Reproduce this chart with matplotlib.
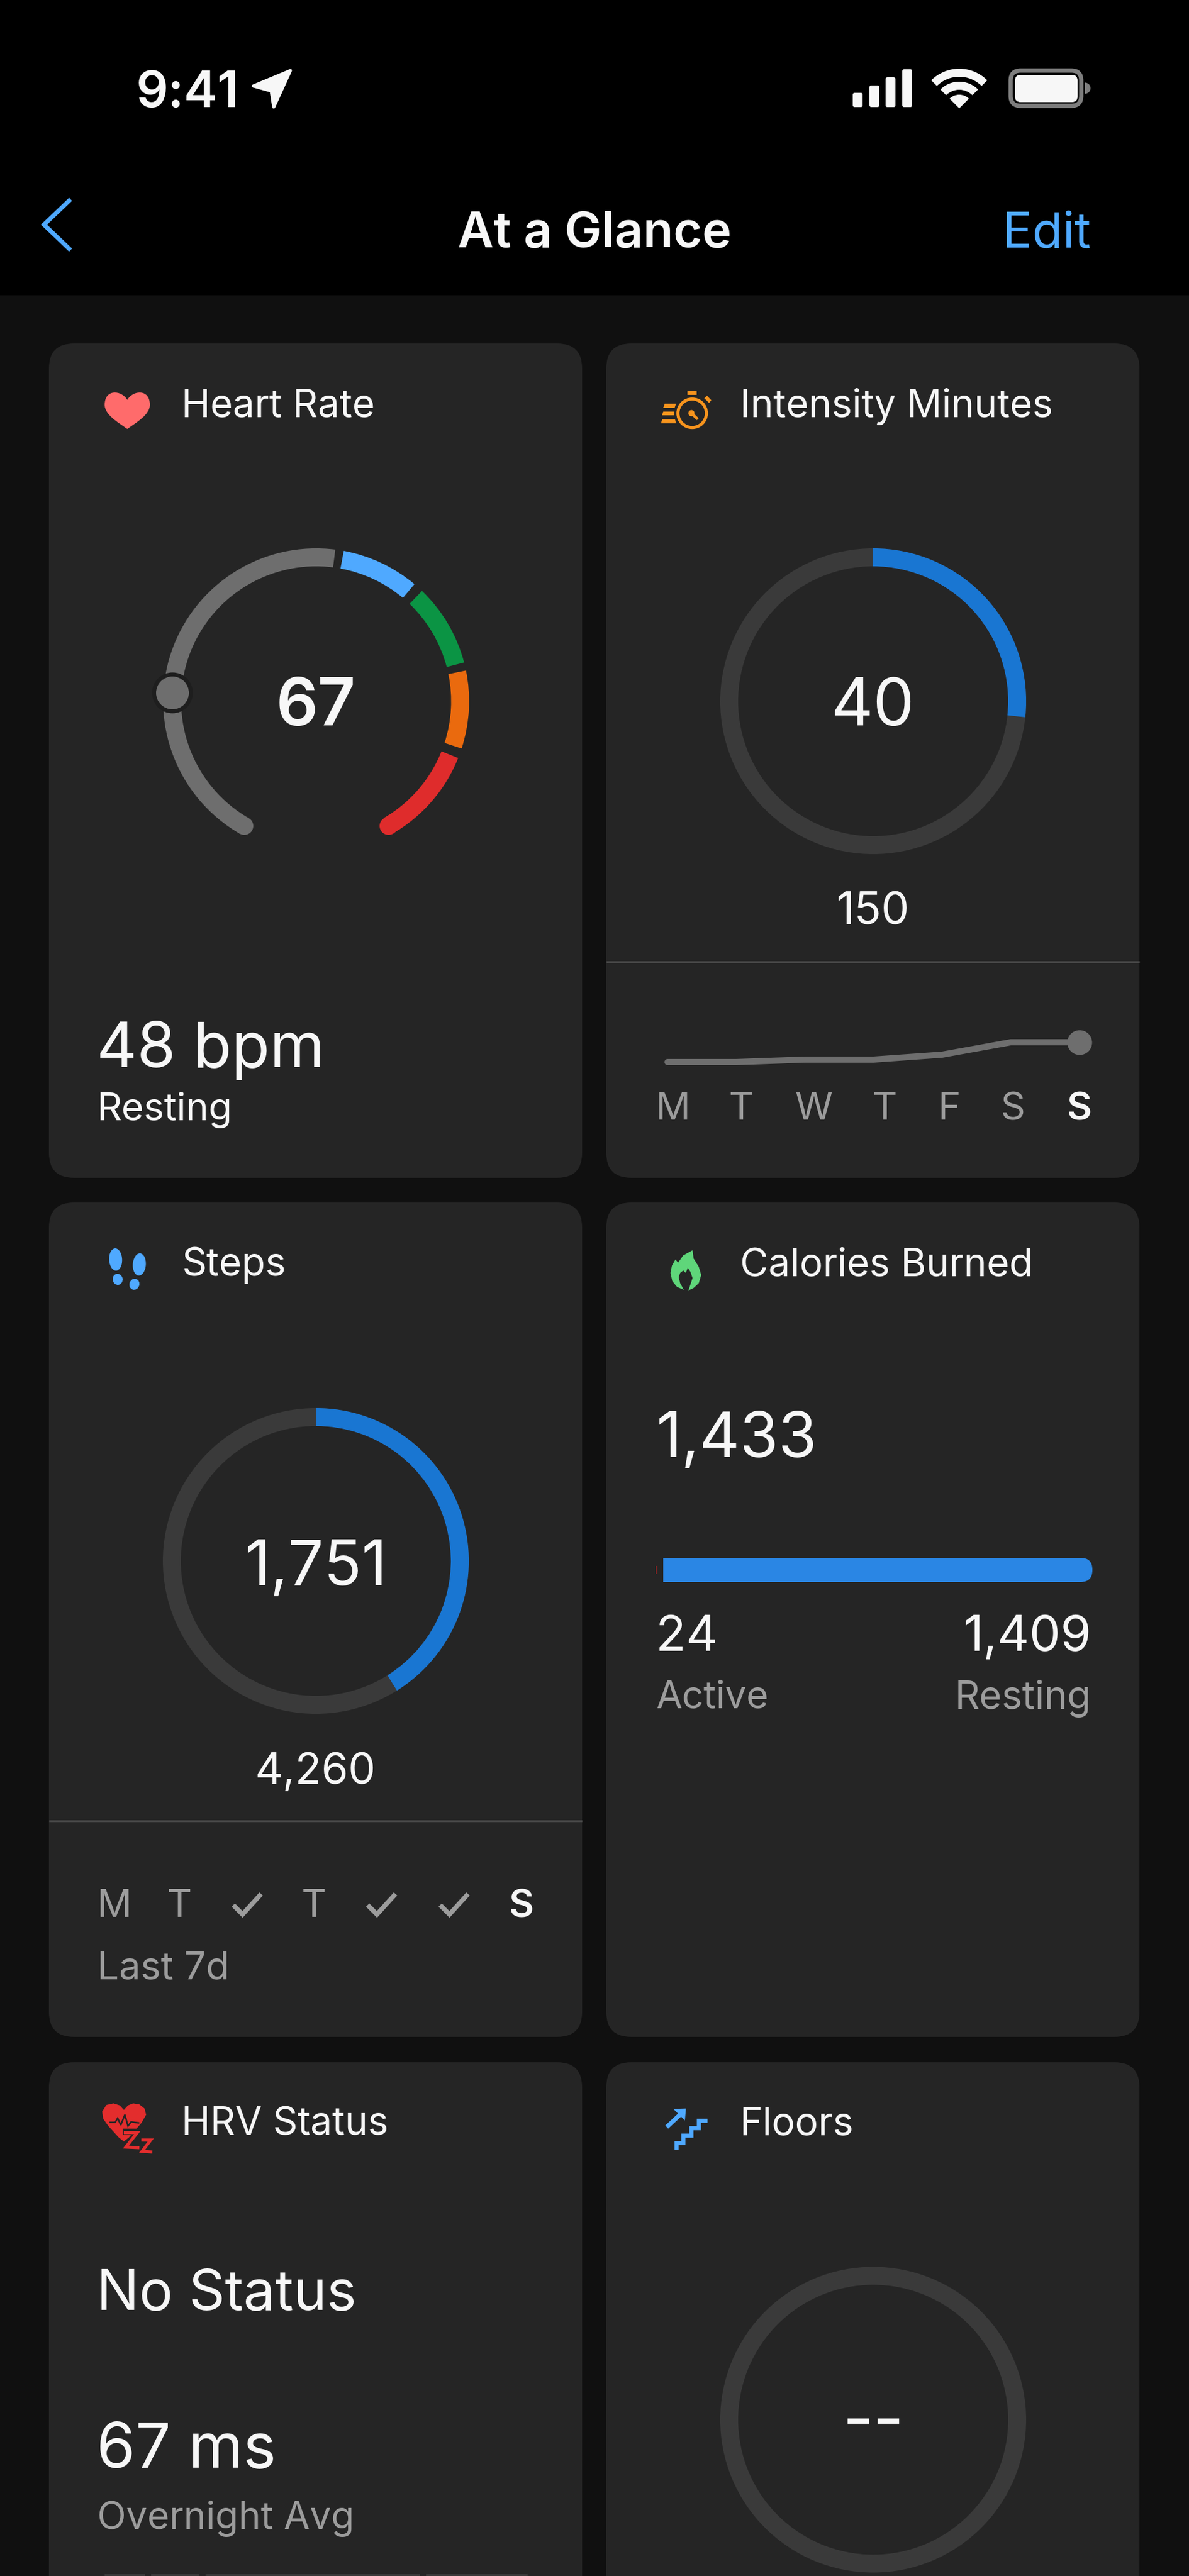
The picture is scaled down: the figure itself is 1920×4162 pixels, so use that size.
import numpy as np
import matplotlib
matplotlib.use("Agg")
import matplotlib.pyplot as plt
from matplotlib.patches import Rectangle, FancyBboxPatch, Polygon, Circle, Ellipse, Wedge, PathPatch
from matplotlib.path import Path

# ---------- data ----------
HR_CURRENT = "67"
HR_RESTING = "48 bpm"
HR_ZONE_COLORS = ["#6e6e6e", "#4fa9ff", "#0b9444", "#ea6a0e", "#df2c2c"]
HR_ZONE_START_DEG = [-150, 10.4, 43.8, 78.4, 111.8]
HR_ZONE_END_DEG = [7.2, 40, 75.3, 108, 150]
HR_MARKER_DEG = -86.5

INTENSITY_VALUE = 40
INTENSITY_GOAL = 150
INTENSITY_DAYS = ["M", "T", "W", "T", "F", "S", "S"]
INTENSITY_WEEK = [0, 0, 5, 5, 15, 40, 40]

STEPS_VALUE = 1751
STEPS_GOAL = 4260
STEPS_DAYS = ["M", "T", "check", "T", "check", "check", "S"]

CAL_TOTAL = 1433
CAL_ACTIVE = 24
CAL_RESTING = 1409

HRV_STATUS = "No Status"
HRV_VALUE = "67 ms"
HRV_SEGMENTS = [65, 78, 345, 164]

# ---------- canvas ----------
W, H = 1920, 4162
DPI = 100
FONT = "Inter"
fig = plt.figure(figsize=(W / DPI, H / DPI), dpi=DPI, facecolor="#000000")
ax = fig.add_axes([0, 0, 1, 1])
ax.set_xlim(0, W)
ax.set_ylim(H, 0)
ax.axis("off")

WHITE = "#f7f7f7"
GREY = "#9c9c9c"
LINK = "#4fa9ff"
CARD = "#252525"
PAGE = "#101010"
TRACK = "#3a3a3a"
PROG = "#1976d2"
MID = "#6e6e6e"


def T(x, y, s, px, color=WHITE, ha="left", weight="normal", family=FONT):
    return ax.text(x, y, s, fontsize=px * 72 / DPI, color=color, ha=ha, va="baseline",
                   fontweight=weight, family=family)


def sub_axes(x0, y0, x1, y1, **kw):
    a = fig.add_axes([x0 / W, 1 - y1 / H, (x1 - x0) / W, (y1 - y0) / H], **kw)
    a.axis("off")
    return a


def ring_axes(cx, cy):
    R = 270
    a = sub_axes(cx - R, cy - R, cx + R, cy + R, projection="polar")
    a.set_theta_zero_location("N")
    a.set_theta_direction(-1)
    a._rmax = R
    return a


def finish_ring(a):
    a.set_xlim(0, 2 * np.pi)
    a.set_ylim(0, a._rmax)


def band(a, start, end, color, r_in=218, width=29):
    a.bar(np.radians(start), width, width=np.radians(end - start), bottom=r_in,
          align="edge", color=color, linewidth=0)


def dot(a, deg, color, diameter, r=232.5, z=3):
    a.scatter([np.radians(deg)], [r], s=(diameter * 72 / DPI) ** 2, color=color,
              linewidths=0, zorder=z, clip_on=False)


def poly(points, ox, oy, color, scale=1 / 3, z=5, edge=0):
    pts = [(ox + p[0] * scale, oy + p[1] * scale) for p in points]
    ax.add_patch(Polygon(pts, closed=True, facecolor=color, edgecolor=color if edge else "none",
                         lw=edge * 72 / DPI, joinstyle="round", zorder=z))


def stroke(points, ox, oy, color, lw_px, scale=1 / 3, z=5, cap="butt", join="miter"):
    xs = [ox + p[0] * scale for p in points]
    ys = [oy + p[1] * scale for p in points]
    ax.plot(xs, ys, color=color, lw=lw_px * 72 / DPI, zorder=z,
            solid_capstyle=cap, solid_joinstyle=join)


# ---------- page, nav bar, cards ----------
ax.add_patch(Rectangle((0, 477), W, H - 477, facecolor=PAGE, edgecolor="none", zorder=0))
for cx0 in (79, 979):
    for cy0 in (555, 1943, 3332):
        ax.add_patch(FancyBboxPatch((cx0, cy0), 861, 1348,
                                    boxstyle="round,pad=0,rounding_size=40",
                                    facecolor=CARD, edgecolor="none", zorder=1))

T(220, 173, "9:41", 81, WHITE, weight="semibold")
poly([(469, 114), (409, 139), (438, 147), (442, 173)], 0, 0, WHITE, scale=1, edge=5)
for bx, top in zip((1377, 1404, 1430, 1457), (150, 138, 125, 112)):
    ax.add_patch(FancyBboxPatch((bx, top), 16, 173 - top, boxstyle="round,pad=0,rounding_size=3",
                                facecolor=WHITE, edgecolor="none", zorder=5))
for r, w in ((22, 22), (43, 13), (64, 13)):
    ax.add_patch(Wedge((1549, 175), r, 225, 315, width=w, facecolor=WHITE, edgecolor="none", zorder=5))
ax.add_patch(FancyBboxPatch((1632, 114), 114, 57, boxstyle="round,pad=0,rounding_size=16",
                            facecolor="#000000", edgecolor="#7d7d7d", lw=5, zorder=5))
ax.add_patch(FancyBboxPatch((1639, 121), 101, 44, boxstyle="round,pad=0,rounding_size=9",
                            facecolor=WHITE, edgecolor="none", zorder=6))
ax.add_patch(Wedge((1752, 142.5), 9, 270, 90, facecolor="#7d7d7d", edgecolor="none", zorder=5))

stroke([(114, 322), (71, 363), (114, 404)], 0, 0, LINK, 7, scale=1)
T(960, 399, "At a Glance", 80, WHITE, ha="center", weight="semibold")
T(1762, 400, "Edit", 80, LINK, ha="right")

# ---------- card titles ----------
T(293, 674, "Heart Rate", 62.6)
T(1195, 674, "Intensity Minutes", 62.6)
T(293, 2061, "Steps", 62.6)
T(1195, 2061, "Calories Burned", 62.6)
T(293, 3450, "HRV Status", 62.6)
T(1195, 3450, "Floors", 62.6)

# ---------- icons ----------
heart = Path([(205.5, 646), (196, 630), (169, 628), (169, 654), (169, 670), (190, 682), (205.5, 693),
              (221, 682), (242, 670), (242, 654), (242, 628), (215, 630), (205.5, 646)],
             [Path.MOVETO] + [Path.CURVE4] * 12)
ax.add_patch(PathPatch(heart, facecolor="#ff6b6b", edgecolor="none", zorder=5))

ORANGE = "#f7941d"
ax.add_patch(Circle((1117.7, 667.7), 23, facecolor="none", edgecolor=ORANGE, lw=5 * 0.72, zorder=5))
poly([(150, 35), (195, 35), (195, 55), (150, 55)], 1060, 620, ORANGE)
poly([(245, 58), (266, 80), (255, 93), (232, 70)], 1060, 620, ORANGE)
poly([(40, 97), (95, 97), (88, 117), (33, 117)], 1060, 620, ORANGE)
poly([(33, 134), (85, 134), (85, 153), (28, 153)], 1060, 620, ORANGE)
poly([(28, 172), (90, 172), (95, 192), (22, 192)], 1060, 620, ORANGE)
stroke([(170, 143), (200, 172)], 1060, 620, ORANGE, 4.5)
ax.add_patch(Circle((1116.5, 667.5), 5, facecolor=ORANGE, edgecolor="none", zorder=5))

for c, w, h, a in (((186.7, 2035), 21, 36, -3), ((190, 2067), 16, 18, -8),
                   ((225, 2043), 21, 36, 4), ((217, 2075), 16, 18, 18)):
    ax.add_patch(Ellipse(c, w, h, angle=a, facecolor=LINK, edgecolor="none", zorder=5))

poly([(145, 30), (150, 70), (175, 110), (187, 150), (175, 190), (150, 213), (125, 225), (135, 195),
      (145, 165), (135, 135), (122, 115), (112, 140), (100, 128), (85, 140), (78, 160), (85, 190),
      (103, 222), (70, 208), (47, 180), (38, 140), (45, 105), (62, 75), (75, 90), (100, 55)],
     1070, 2010, "#5fd67a")

RED = "#e32d2d"
poly([(150, 72), (130, 50), (100, 40), (65, 48), (45, 80), (50, 115), (75, 150), (125, 205), (150, 225),
      (175, 205), (235, 135), (258, 95), (250, 65), (225, 45), (195, 40), (170, 50)], 150, 3385, RED)
stroke([(80, 132), (108, 132), (120, 112), (135, 145), (155, 95), (170, 150), (185, 130), (225, 135)],
       150, 3385, CARD, 2.5, z=6)
stroke([(145, 178), (222, 178), (160, 252), (228, 258)], 150, 3385, CARD, 10, z=6)
stroke([(150, 182), (215, 182), (160, 252), (225, 255)], 150, 3385, RED, 5, z=7)
stroke([(235, 218), (280, 218), (238, 273), (288, 276)], 150, 3385, RED, 5, z=7)

poly([(82, 52), (143, 50), (138, 108)], 1060, 3390, LINK)
stroke([(50, 140), (125, 70)], 1060, 3390, LINK, 7)
stroke([(95, 250), (95, 215), (130, 215), (130, 180), (168, 180), (168, 143), (205, 143), (205, 107),
        (245, 107)], 1060, 3390, LINK, 6.5)

# ---------- heart rate gauge ----------
hr = ring_axes(510.5, 1133)
for c, s, e in zip(HR_ZONE_COLORS, HR_ZONE_START_DEG, HR_ZONE_END_DEG):
    band(hr, s, e, c)
dot(hr, HR_ZONE_START_DEG[0], HR_ZONE_COLORS[0], 29)
dot(hr, HR_ZONE_END_DEG[-1], HR_ZONE_COLORS[-1], 29)
dot(hr, HR_MARKER_DEG, "#1e1e1e", 66, z=4)
dot(hr, HR_MARKER_DEG, MID, 53, z=5)
finish_ring(hr)
T(510, 1172, HR_CURRENT, 106, WHITE, ha="center", weight="semibold")
T(156, 1724, HR_RESTING, 101)
T(157, 1810, "Resting", 62)

# ---------- intensity minutes ----------
im = ring_axes(1410, 1133)
band(im, 0, 360, TRACK)
band(im, 0, 360 * INTENSITY_VALUE / INTENSITY_GOAL, PROG)
finish_ring(im)
T(1410, 1172, str(INTENSITY_VALUE), 106, WHITE, ha="center")
T(1410, 1493, str(INTENSITY_GOAL), 72, WHITE, ha="center")
ax.plot([979, 1840], [1554, 1554], color="#484848", lw=2.2, zorder=2, solid_capstyle="butt")

wk = sub_axes(1078, 1684, 1743, 1716)
wk.plot(range(len(INTENSITY_WEEK)), INTENSITY_WEEK, color=MID, lw=10 * 72 / DPI, clip_on=False,
        solid_capstyle="round", solid_joinstyle="round")
wk.scatter([len(INTENSITY_WEEK) - 1], [INTENSITY_WEEK[-1]], s=(40 * 72 / DPI) ** 2, color=MID,
           linewidths=0, clip_on=False, zorder=3)
wk.set_xlim(0, len(INTENSITY_WEEK) - 1)
wk.set_ylim(0, max(INTENSITY_WEEK))

for x, d, last in zip((1086.6, 1197, 1314, 1429, 1533, 1635, 1743), INTENSITY_DAYS,
                      [False] * 6 + [True]):
    T(x, 1809, d, 62, WHITE if last else GREY, ha="center", weight="semibold" if last else "normal")

# ---------- steps ----------
st = ring_axes(510, 2522)
band(st, 0, 360, TRACK)
band(st, 0, 360 * STEPS_VALUE / STEPS_GOAL, PROG)
finish_ring(st)
T(510, 2561, f"{STEPS_VALUE:,}", 101, WHITE, ha="center")
T(510, 2882, f"{STEPS_GOAL:,}", 70, WHITE, ha="center")
ax.plot([79, 940], [2942, 2942], color="#484848", lw=2.2, zorder=2, solid_capstyle="butt")

for x, d, last in zip((184.6, 289.6, 398.7, 506.6, 615.7, 732.8, 841.8), STEPS_DAYS, [False] * 6 + [True]):
    if d == "check":
        ax.plot([x - 22, x - 7, x + 23], [3078, 3093, 3060], color=GREY, lw=7.5 * 0.72, zorder=5,
                solid_joinstyle="miter", solid_capstyle="butt")
    else:
        T(x, 3097, d, 62, WHITE if last else GREY, ha="center", weight="semibold" if last else "normal")
T(157, 3198, "Last 7d", 62, GREY)

# ---------- calories ----------
T(1059, 2354, f"{CAL_TOTAL:,}", 101)
cal = sub_axes(1059, 2517, 1764, 2556)
clip = FancyBboxPatch((1000, 2517), 764, 39, boxstyle="round,pad=0,rounding_size=19",
                      transform=ax.transData, facecolor="none", edgecolor="none")
ax.add_patch(clip)
rest = cal.barh(0, CAL_RESTING, left=CAL_ACTIVE, height=1, color="#2a86e4", linewidth=0)
for b in rest:
    b.set_clip_path(clip)
act = cal.barh(0, CAL_ACTIVE, height=0.33, color="#d32020", linewidth=0)
for b in act:
    b.set_clip_path(Rectangle((0, -0.5), 3, 1, transform=cal.transData))
cal.set_xlim(0, CAL_TOTAL)
cal.set_ylim(-0.5, 0.5)
T(1059, 2667, str(CAL_ACTIVE), 80)
T(1762, 2667, f"{CAL_RESTING:,}", 80, ha="right")
T(1059, 2760, "Active", 61, GREY)
T(1762, 2760, "Resting", 62.5, GREY, ha="right")

# ---------- HRV ----------
T(156, 3732, HRV_STATUS, 91)
T(156, 3987, HRV_VALUE, 101)
T(157, 4086, "Overnight Avg", 61, GREY)
hrv = sub_axes(169, 4159, 852, 4200)
lefts = np.cumsum([0] + [s + 10 for s in HRV_SEGMENTS[:-1]])
hrv.barh([0] * len(HRV_SEGMENTS), HRV_SEGMENTS, left=lefts, height=1, color=TRACK, linewidth=0)
hrv.set_xlim(0, sum(HRV_SEGMENTS) + 10 * (len(HRV_SEGMENTS) - 1))
hrv.set_ylim(0.5, -0.5)

# ---------- floors ----------
fl = ring_axes(1410, 3909.5)
band(fl, 0, 360, TRACK)
finish_ring(fl)
T(1410, 3945, "--", 108, WHITE, ha="center")

fig.savefig("out.png", dpi=DPI, facecolor=fig.get_facecolor())
